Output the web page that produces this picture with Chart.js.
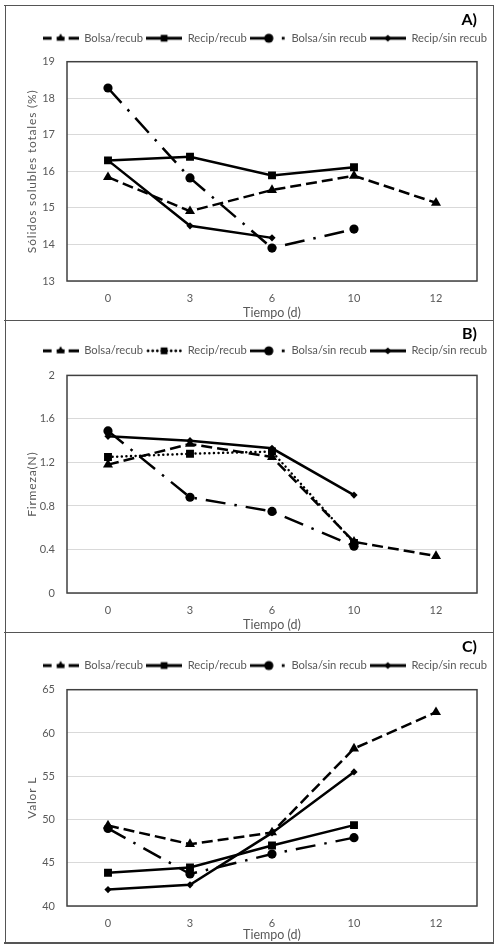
<!DOCTYPE html>
<html><head><meta charset="utf-8">
<script src="https://cdn.jsdelivr.net/npm/chart.js@4.4.1/dist/chart.umd.min.js"></script>
<style>
html,body{margin:0;padding:0;background:#fff;}
body{width:498px;height:950px;position:relative;overflow:hidden;}
canvas{position:absolute;left:5px;}
.hl{position:absolute;left:4px;width:490px;height:1.5px;background:#555;}
.vl{position:absolute;top:4.5px;width:1.5px;height:939px;background:#555;}
</style></head><body>
<canvas id="cA" width="488" height="315" style="top:5px;width:488px;height:315px"></canvas>
<canvas id="cB" width="488" height="312" style="top:320px;width:488px;height:312px"></canvas>
<canvas id="cC" width="488" height="310" style="top:632px;width:488px;height:310px"></canvas>
<div class="hl" style="top:4.5px"></div>
<div class="hl" style="top:319.5px"></div>
<div class="hl" style="top:631.5px"></div>
<div class="hl" style="top:942px"></div>
<div class="vl" style="left:4.5px"></div>
<div class="vl" style="left:492.5px"></div>
<script>
// ---- data ----
const days = ['0', '3', '6', '10', '12'];
const seriesNames = ['Bolsa/recub', 'Recip/recub', 'Bolsa/sin recub', 'Recip/sin recub'];

// A) Sólidos solubles totales (%)
const solidosBolsaRecub = [15.84, 14.91, 15.49, 15.88, 15.14];
const solidosRecipRecub = [16.30, 16.40, 15.89, 16.11, null];
const solidosBolsaSin   = [18.28, 15.82, 13.90, 14.42, null];
const solidosRecipSin   = [16.30, 14.51, 14.18, null, null];

// B) Firmeza (N)
const firmezaBolsaRecub = [1.18, 1.37, 1.25, 0.47, 0.34];
const firmezaRecipRecub = [1.25, 1.28, 1.30, 0.46, null];
const firmezaBolsaSin   = [1.49, 0.88, 0.75, 0.43, null];
const firmezaRecipSin   = [1.44, 1.40, 1.33, 0.90, null];

// C) Valor L
const valorBolsaRecub = [49.3, 47.15, 48.5, 58.2, 62.4];
const valorRecipRecub = [43.85, 44.45, 47.0, 49.35, null];
const valorBolsaSin   = [48.97, 43.7, 46.0, 47.9, null];
const valorRecipSin   = [41.9, 42.45, 48.45, 55.5, null];

const solidosTicks = [13, 14, 15, 16, 17, 18, 19];
const firmezaTicks = [0, 0.4, 0.8, 1.2, 1.6, 2];
const valorTicks = [40, 45, 50, 55, 60, 65];

// ---- styles ----
const FONT = 'Lato, "Open Sans", "DejaVu Sans", sans-serif';
const GRAY = '#595959';
const DASH = [11, 5];
const DASHDOT = [20, 9, 2.5, 9];
const DOT = [0.01, 4.6];
const SOLID = [];

class SpacedLinearScale extends Chart.LinearScale {
  drawTitle(...args) {
    const ctx = this.ctx;
    const prev = ctx.letterSpacing;
    try { ctx.letterSpacing = '0.8px'; } catch (e) {}
    super.drawTitle(...args);
    try { ctx.letterSpacing = prev || '0px'; } catch (e) {}
  }
}
SpacedLinearScale.id = 'spacedLinear';
Chart.register(SpacedLinearScale);

function drawMarker(ctx, style, x, y, r) {
  ctx.beginPath();
  if (style === 'triangle') {
    for (let i = 0; i < 3; i++) {
      const a = i * 2 * Math.PI / 3;
      const px = x + Math.sin(a) * r, py = y - Math.cos(a) * r;
      if (i === 0) ctx.moveTo(px, py); else ctx.lineTo(px, py);
    }
    ctx.closePath();
  } else if (style === 'rect') {
    const s = Math.SQRT1_2 * r;
    ctx.rect(x - s, y - s, 2 * s, 2 * s);
  } else if (style === 'circle') {
    ctx.arc(x, y, r, 0, Math.PI * 2);
  } else if (style === 'rectRot') {
    ctx.moveTo(x, y - r); ctx.lineTo(x + r, y); ctx.lineTo(x, y + r); ctx.lineTo(x - r, y); ctx.closePath();
  }
  ctx.fill();
}

function makeSample(kind, marker, r) {
  const c = document.createElement('canvas');
  c.width = 36; c.height = 12;
  const ctx = c.getContext('2d');
  ctx.strokeStyle = '#000'; ctx.fillStyle = '#000'; ctx.lineWidth = 2.8;
  const y = 6;
  if (kind === 'dashdot') {
    ctx.beginPath(); ctx.moveTo(0, y); ctx.lineTo(19, y); ctx.stroke();
    ctx.fillRect(32, y - 1.4, 2.8, 2.8);
    drawMarker(ctx, marker, 19, y, r);
    return c;
  }
  if (kind === 'dash') {
    ctx.beginPath(); ctx.moveTo(0, y); ctx.lineTo(9, y); ctx.moveTo(14, y); ctx.lineTo(22, y); ctx.moveTo(26, y); ctx.lineTo(36, y); ctx.stroke();
  } else if (kind === 'dot') {
    ctx.lineCap = 'round';
    ctx.setLineDash(DOT);
    ctx.beginPath(); ctx.moveTo(2, y); ctx.lineTo(35, y); ctx.stroke();
    ctx.setLineDash([]);
  } else {
    ctx.beginPath(); ctx.moveTo(0, y); ctx.lineTo(36, y); ctx.stroke();
  }
  drawMarker(ctx, marker, 18, y, r);
  return c;
}

const plotBorder = {
  id: 'plotBorder',
  beforeDatasetsDraw(chart) {
    const a = chart.chartArea, ctx = chart.ctx;
    ctx.save();
    ctx.strokeStyle = '#404040';
    ctx.lineWidth = 1.5;
    ctx.strokeRect(a.left, a.top, a.right - a.left, a.bottom - a.top);
    ctx.restore();
  }
};

function buildPanel(id, cfg) {
  const markers = [['triangle', 5.8], ['rect', 5.6], ['circle', 4.6], ['rectRot', 3.6]];
  const kinds = ['dash', cfg.recipRecubDotted ? 'dot' : 'solid', 'dashdot', 'solid'];
  const dashes = [DASH, cfg.recipRecubDotted ? DOT : SOLID, DASHDOT, SOLID];
  const samples = kinds.map((k, i) => makeSample(k, markers[i][0], Math.min(markers[i][1], 4.8)));
  const datasets = cfg.values.map((vals, i) => ({
    label: seriesNames[i],
    data: vals,
    borderColor: '#000',
    backgroundColor: '#000',
    borderWidth: 2.5,
    borderDash: dashes[i],
    borderCapStyle: (kinds[i] === 'dot') ? 'round' : 'butt',
    pointStyle: markers[i][0],
    pointRadius: markers[i][1],
    pointHoverRadius: markers[i][1],
    pointBackgroundColor: '#000',
    pointBorderColor: '#000',
    pointBorderWidth: 0,
    tension: 0,
    spanGaps: false,
    fill: false
  }));
  const H = cfg.height;
  new Chart(document.getElementById(id), {
    type: 'line',
    data: { labels: days, datasets },
    plugins: [plotBorder],
    options: {
      responsive: false,
      animation: false,
      events: [],
      layout: { padding: { left: 0, right: 3, top: 0, bottom: 0 } },
      plugins: {
        tooltip: { enabled: false },
        title: {
          display: true, text: cfg.title, align: 'end', fullSize: false, color: '#000',
          font: { family: FONT, size: 16, weight: 'bold', lineHeight: 1.2 },
          padding: { top: cfg.titleTop, bottom: cfg.titleBottom }
        },
        subtitle: {
          display: true, text: '', weight: 500, position: 'top',
          font: { size: 1, lineHeight: 1 },
          padding: { top: cfg.spacer - 1, bottom: 0 }
        },
        legend: {
          display: true, position: 'top', align: 'end',
          labels: {
            usePointStyle: true, pointStyleWidth: 36, padding: 3,
            color: GRAY, font: { family: FONT, size: 11.2 },
            generateLabels: () => seriesNames.map((n, i) => ({
              text: n, pointStyle: samples[i], fillStyle: '#000', strokeStyle: '#000',
              lineWidth: 0, hidden: false, datasetIndex: i, fontColor: GRAY
            }))
          }
        }
      },
      scales: {
        x: {
          type: 'category', offset: true,
          grid: { display: false, drawTicks: false }, border: { display: false },
          ticks: { color: GRAY, font: { family: FONT, size: 11 }, padding: cfg.xTickPad },
          title: { display: true, text: 'Tiempo (d)', color: GRAY, font: { family: FONT, size: 12.5 }, padding: { top: 0, bottom: 0 } },
          afterFit(s) { s.height = H - cfg.plotBottom; }
        },
        y: {
          type: 'spacedLinear', position: 'left', min: cfg.min, max: cfg.max,
          afterBuildTicks(s) { s.ticks = cfg.ticks.map(v => ({ value: v })); },
          grid: { color: '#d9d9d9', lineWidth: 1, drawTicks: false },
          border: { display: false },
          ticks: { color: GRAY, font: { family: FONT, size: 11 }, padding: 12, callback: v => cfg.tickLabel(v) },
          title: { display: true, text: cfg.yTitle, color: GRAY, font: { family: FONT, size: 12 }, padding: { top: 20, bottom: 0 } },
          afterFit(s) { s.width = 62; }
        },
        yR: {
          type: 'linear', position: 'right', display: true,
          grid: { display: false }, border: { display: false }, ticks: { display: false },
          afterFit(s) { s.width = 13; }
        }
      }
    }
  });
}

buildPanel('cA', {
  title: 'A)', height: 315, titleTop: 5.4, titleBottom: 0, spacer: 7.9, plotBottom: 276, xTickPad: 10.4,
  min: 13, max: 19, ticks: solidosTicks, tickLabel: v => String(v),
  yTitle: 'Sólidos solubles totales (%)',
  values: [solidosBolsaRecub, solidosRecipRecub, solidosBolsaSin, solidosRecipSin]
});
buildPanel('cB', {
  title: 'B)', height: 312, titleTop: 4.4, titleBottom: -1.35, spacer: 8.95, recipRecubDotted: true, plotBottom: 273, xTickPad: 10.4,
  min: 0, max: 2, ticks: firmezaTicks, tickLabel: v => (v === 0 || v === 2) ? String(v) : v.toFixed(1),
  yTitle: 'Firmeza(N)',
  values: [firmezaBolsaRecub, firmezaRecipRecub, firmezaBolsaSin, firmezaRecipSin]
});
buildPanel('cC', {
  title: 'C)', height: 310, titleTop: 5.4, titleBottom: 0.35, spacer: 8.55, plotBottom: 274, xTickPad: 10.4,
  min: 40, max: 65, ticks: valorTicks, tickLabel: v => String(v),
  yTitle: 'Valor L',
  values: [valorBolsaRecub, valorRecipRecub, valorBolsaSin, valorRecipSin]
});
</script>
</body></html>
